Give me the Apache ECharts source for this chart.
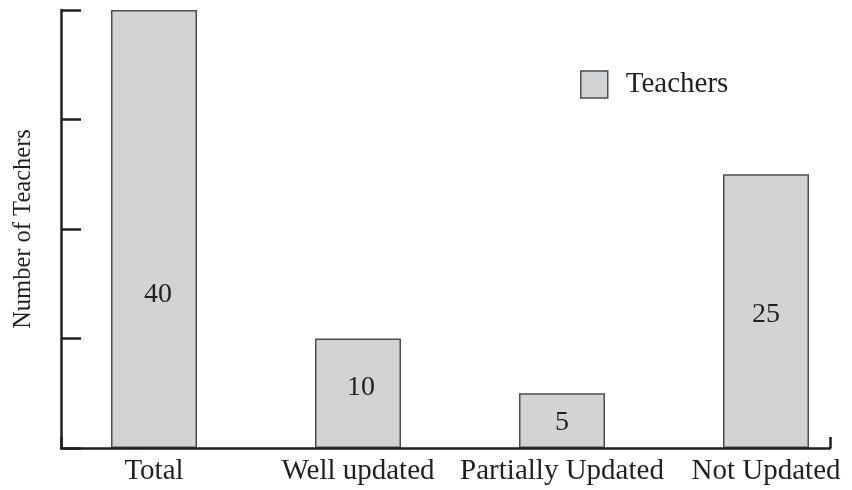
<!DOCTYPE html>
<html>
<head>
<meta charset="utf-8">
<script src="https://cdn.jsdelivr.net/npm/echarts@6/dist/echarts.min.js"></script>
<style>
  html, body { margin: 0; padding: 0; background: #ffffff; }
  #chart { width: 852px; height: 490px; }
</style>
</head>
<body>
<div id="chart"></div>
<script>
// Teacher counts per update status
const categories = ['Total', 'Well updated', 'Partially Updated', 'Not Updated'];
const teachers = [40, 10, 5, 25];
const seriesName = 'Teachers';
const yAxisTitle = 'Number of Teachers';

const FONT = '"Liberation Serif", "Times New Roman", serif';
const INK = '#231f20';
const FILL = '#d1d3d4';
const EDGE = '#4d4d4d';

// the tallest bar carries its value label lower inside the bar
const labelOffsets = [[4, 66], [3, -6], [0, 2], [0, 4]];

const barData = teachers.map((v, i) => ({
  value: v,
  label: { offset: labelOffsets[i] }
}));

const chart = echarts.init(document.getElementById('chart'), null, { renderer: 'canvas' });

chart.setOption({
  animation: false,
  backgroundColor: '#ffffff',
  textStyle: { fontFamily: FONT },
  legend: {
    left: 580,
    top: 70,
    padding: 0,
    itemWidth: 27,
    itemHeight: 27,
    icon: 'rect',
    data: [seriesName],
    textStyle: { fontFamily: FONT, fontSize: 29, color: INK, padding: [0, 0, 0, 13] },
    itemStyle: { color: FILL, borderColor: EDGE, borderWidth: 1.5 }
  },
  grid: [
    // frame grid: axis lines and ticks
    { left: 61, right: 22, top: 10, bottom: 42, outerBoundsMode: 'none' },
    // bar grid: category slots
    { left: 52, width: 816, top: 10, bottom: 42, outerBoundsMode: 'none' }
  ],
  xAxis: [
    {
      gridIndex: 0,
      type: 'value',
      min: 0,
      max: 1,
      interval: 1,
      z: 5,
      axisLine: { show: true, lineStyle: { color: INK, width: 2.5 } },
      axisTick: { show: true, inside: true, length: 11, lineStyle: { color: INK, width: 2.5 } },
      axisLabel: { show: false },
      splitLine: { show: false }
    },
    {
      gridIndex: 1,
      type: 'category',
      data: categories,
      axisLine: { show: false },
      axisTick: { show: false },
      axisLabel: { interval: 0, hideOverlap: false, fontFamily: FONT, fontSize: 29, color: INK, margin: 9 },
      splitLine: { show: false }
    }
  ],
  yAxis: [
    {
      gridIndex: 0,
      type: 'value',
      min: 0,
      max: 40,
      interval: 10,
      z: 5,
      name: yAxisTitle,
      nameLocation: 'middle',
      nameGap: 25,
      nameTextStyle: { fontFamily: FONT, fontSize: 24.5, color: INK },
      axisLine: { show: true, lineStyle: { color: INK, width: 2.5 } },
      axisTick: { show: true, inside: true, length: 20, lineStyle: { color: INK, width: 2.5 } },
      axisLabel: { show: false },
      splitLine: { show: false }
    },
    {
      gridIndex: 1,
      type: 'value',
      min: 0,
      max: 40,
      show: false
    }
  ],
  series: [
    {
      name: seriesName,
      type: 'bar',
      xAxisIndex: 1,
      yAxisIndex: 1,
      barWidth: 86,
      data: barData,
      itemStyle: { color: FILL, borderColor: EDGE, borderWidth: 1.5 },
      label: {
        show: true,
        position: 'inside',
        fontFamily: FONT,
        fontSize: 28,
        color: INK
      }
    }
  ]
});
</script>
</body>
</html>
